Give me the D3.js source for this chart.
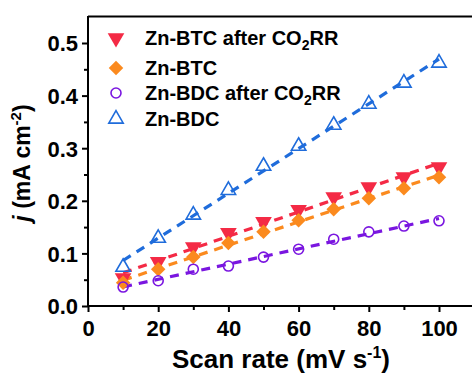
<!DOCTYPE html>
<html><head><meta charset="utf-8">
<script src="https://cdn.jsdelivr.net/npm/d3@7"></script>
<style>body{margin:0;background:#fff}svg{display:block}text{font-family:Arial,"Liberation Sans",sans-serif;font-weight:bold;fill:#000}</style>
</head><body><svg id="c" width="472" height="379"></svg>
<script>
const scanRates = [10,20,30,40,50,60,70,80,90,100];
const btcAfter = [0.053,0.084,0.112,0.139,0.160,0.183,0.207,0.226,0.245,0.264];
const btc = [0.044,0.070,0.093,0.120,0.141,0.163,0.184,0.205,0.224,0.245];
const bdcAfter = [0.036,0.048,0.070,0.076,0.093,0.108,0.127,0.141,0.152,0.162];
const bdc = [0.074,0.129,0.173,0.220,0.266,0.304,0.344,0.384,0.424,0.462];
const seriesNames = ["Zn-BTC after CO2RR","Zn-BTC","Zn-BDC after CO2RR","Zn-BDC"];
const xTicks = [0,20,40,60,80,100];
const yTicks = [0.0,0.1,0.2,0.3,0.4,0.5];

const series = [
 {name:seriesNames[0], vals:btcAfter, color:"#f42a45", sym:"tri-down", fill:true},
 {name:seriesNames[1], vals:btc, color:"#fb8a1e", sym:"diamond", fill:true},
 {name:seriesNames[2], vals:bdcAfter, color:"#7a16e0", sym:"circle", fill:false},
 {name:seriesNames[3], vals:bdc, color:"#1f6cdb", sym:"tri-up", fill:false},
];

const svg = d3.select("#c");
const x = d3.scaleLinear().domain([0,100]).range([88,439]);
const y = d3.scaleLinear().domain([0,0.5]).range([306,43]);

svg.append("line").attr("x1",88).attr("x2",472).attr("y1",16.5).attr("y2",16.5).attr("stroke","#000").attr("stroke-width",2);

const xAxis = d3.axisBottom(x).tickValues(xTicks).tickSize(6).tickFormat(d3.format("d"));
const gx = svg.append("g").attr("transform","translate(0,306)").call(xAxis);
gx.select(".domain").remove();
svg.append("line").attr("x1",87).attr("x2",472).attr("y1",306).attr("y2",306).attr("stroke","#000").attr("stroke-width",2);
gx.selectAll(".tick line").attr("stroke-width",2);
gx.selectAll(".tick text").attr("font-size",22).attr("dy",null).attr("y",30);
const gxm = svg.append("g").attr("transform","translate(0,306)").call(d3.axisBottom(x).tickValues([10,30,50,70,90]).tickSize(4).tickFormat(""));
gxm.select(".domain").remove();
gxm.selectAll(".tick line").attr("stroke-width",2);

const yAxis = d3.axisLeft(y).tickValues(yTicks).tickSize(6).tickFormat(d3.format(".1f"));
const gy = svg.append("g").attr("transform","translate(88,0)").call(yAxis);
gy.select(".domain").remove();
svg.append("line").attr("x1",88).attr("x2",88).attr("y1",16).attr("y2",307).attr("stroke","#000").attr("stroke-width",2);
gy.selectAll(".tick line").attr("stroke-width",2);
gy.selectAll(".tick text").attr("font-size",22).attr("x",-10).attr("dy","0.36em");
const gym = svg.append("g").attr("transform","translate(88,0)").call(d3.axisLeft(y).tickValues([0.05,0.15,0.25,0.35,0.45]).tickSize(4).tickFormat(""));
gym.select(".domain").remove();
gym.selectAll(".tick line").attr("stroke-width",2);

const xt = svg.append("text").attr("x",281).attr("y",368).attr("text-anchor","middle").attr("font-size",26);
xt.append("tspan").text("Scan rate (mV s");
xt.append("tspan").text("-1").attr("font-size",16).attr("dy",-10);
xt.append("tspan").text(")").attr("dy",10);

const yt = svg.append("text").attr("transform","translate(30,163) rotate(-90)").attr("text-anchor","middle").attr("font-size",23);
yt.append("tspan").text("j").attr("font-style","italic");
yt.append("tspan").text(" (mA cm");
yt.append("tspan").text("-2").attr("font-size",15).attr("dy",-9);
yt.append("tspan").text(")").attr("dy",9);

function symPath(sym){
  if(sym==="tri-down") return d3.symbol(d3.symbolTriangle,120)();
  if(sym==="tri-up") return d3.symbol(d3.symbolTriangle,90)();
  if(sym==="diamond") return d3.symbol(d3.symbolSquare,105)();
  return null;
}
function drawMarker(g, s, cx, cy){
  if(s.sym==="circle"){
    g.append("circle").attr("cx",cx).attr("cy",cy).attr("r",5).attr("fill","none").attr("stroke",s.color).attr("stroke-width",1.6);
    return;
  }
  let rot = s.sym==="tri-down"?180:(s.sym==="diamond"?45:0);
  const p = g.append("path").attr("d",symPath(s.sym)).attr("transform",`translate(${cx},${cy}) rotate(${rot})`);
  if(s.fill) p.attr("fill",s.color).attr("stroke","none");
  else p.attr("fill","none").attr("stroke",s.color).attr("stroke-width",1.6);
}

series.forEach(s=>{
  const mx=d3.mean(scanRates), my=d3.mean(s.vals);
  let sxy=0,sxx=0;
  scanRates.forEach((xv,i)=>{sxy+=(xv-mx)*(s.vals[i]-my);sxx+=(xv-mx)**2;});
  const b=sxy/sxx, a=my-b*mx;
  svg.append("line").attr("x1",x(10)).attr("y1",y(a+b*10)).attr("x2",x(100)).attr("y2",y(a+b*100))
    .attr("stroke",s.color).attr("stroke-width",3.2).attr("stroke-dasharray","9,7");
});
series.forEach(s=>{
  const g=svg.append("g");
  scanRates.forEach((xv,i)=>drawMarker(g,s,x(xv),y(s.vals[i])));
});

const ly=[38,68,93,119];
series.forEach((s,i)=>{
  const g=svg.append("g");
  drawMarker(g,s,116,ly[i]);
  const t=svg.append("text").attr("x",145).attr("y",ly[i]+7).attr("font-size",20);
  if(s.name.includes("CO2RR")){
    t.append("tspan").text(s.name.replace("CO2RR","CO"));
    t.append("tspan").text("2").attr("font-size",14).attr("dy",5);
    t.append("tspan").text("RR").attr("dy",-5);
  } else t.text(s.name);
});
</script></body></html>
